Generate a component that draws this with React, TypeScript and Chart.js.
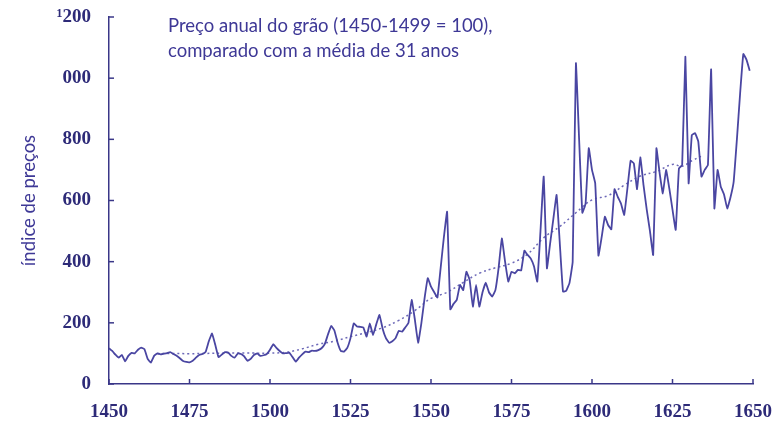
import React, { useEffect, useRef } from "react";
import { Chart, registerables } from "chart.js";

Chart.register(...registerables);

// Annual grain price index, 1450 onward (1450-1499 = 100)
const firstYear = 1450;
const priceIndex = [
  117, 108, 96, 86, 95, 74, 92, 102, 100, 112,
  119, 114, 82, 70, 92, 100, 97, 99, 101, 104,
  98, 92, 84, 75, 72, 71, 76, 86, 95, 98,
  105, 140, 165, 128, 88, 96, 104, 103, 92, 86,
  100, 98, 90, 76, 82, 95, 100, 92, 94, 98,
  112, 130, 118, 108, 100, 101, 102, 88, 73, 86,
  97, 106, 104, 109, 108, 111, 117, 130, 162, 190,
  175, 135, 108, 106, 118, 150, 198, 188, 187, 185,
  155, 198, 160, 195, 226, 180, 150, 135, 140, 150,
  174, 171, 185, 200, 275, 210, 135, 198, 280, 346,
  318, 300, 283, 380, 480, 563, 244, 262, 275, 324,
  307, 367, 340, 253, 324, 253, 300, 331, 300, 286,
  307, 380, 476, 400, 335, 367, 362, 373, 371, 436,
  422, 410, 384, 335, 500, 678, 378, 460, 540, 618,
  460, 302, 305, 330, 400, 1049, 800, 560, 590, 771,
  700, 656, 420, 480, 547, 520, 506, 637, 612, 590,
  553, 640, 730, 721, 637, 741, 650, 570, 500, 422,
  771, 690, 623, 700, 640, 570, 504, 705, 716, 1070,
  656, 814, 820, 793, 678, 700, 716, 1029, 574, 700,
  645, 620, 574, 610, 662, 800, 950, 1079, 1060, 1024,
];

// 31-year moving average
const avgYears = [
  1465, 1470, 1475, 1480, 1485, 1490, 1495, 1500, 1505, 1510,
  1515, 1520, 1525, 1530, 1535, 1540, 1545, 1550, 1555, 1560,
  1565, 1570, 1575, 1580, 1585, 1590, 1595, 1600, 1605, 1610,
  1615, 1620, 1625, 1628, 1631, 1634,
];
const avgValues = [
  100, 100, 99, 100, 101, 101, 101, 101, 104, 115,
  130, 140, 155, 168, 184, 208, 240, 280, 300, 332,
  362, 380, 395, 425, 478, 515, 560, 602, 616, 650,
  680, 695, 718, 712, 730, 745,
];

const xTickLabels = ["1450", "1475", "1500", "1525", "1550", "1575", "1600", "1625", "1650"];
const yTickLabels = ["0", "200", "400", "600", "800", "000", "\u00b9200"];

const titleLines = ["Preço anual do grão (1450-1499 = 100),", "comparado com a média de 31 anos"];
const yAxisTitle = "índice de preços";

const axisColor = "#3a3788";
const tickTextColor = "#2d2a78";
const lineColor = "#4a46a2";
const avgColor = "#6d69b8";
const textColor = "#3e3896";

export default function App() {
  const ref = useRef<HTMLCanvasElement | null>(null);

  useEffect(() => {
    if (!ref.current) return;
    const overlay = {
      id: "overlay",
      afterDraw(chart: any) {
        const { ctx, scales } = chart;
        const x = scales.x;
        const y = scales.y;
        ctx.save();
        ctx.strokeStyle = axisColor;
        ctx.lineWidth = 1.5;
        x.ticks.forEach((t: any) => {
          const px = x.getPixelForValue(t.value);
          ctx.beginPath();
          ctx.moveTo(px, y.bottom);
          ctx.lineTo(px, y.bottom - 5);
          ctx.stroke();
        });
        y.ticks.forEach((t: any) => {
          const py = y.getPixelForValue(t.value);
          ctx.beginPath();
          ctx.moveTo(x.left, py);
          ctx.lineTo(x.left + 5, py);
          ctx.stroke();
        });
        ctx.fillStyle = textColor;
        ctx.font = "18.5px Lato";
        ctx.textBaseline = "alphabetic";
        ctx.textAlign = "left";
        titleLines.forEach((line, i) => {
          ctx.fillText(line, x.left + 59, 32 + i * 25);
        });
        ctx.restore();
      },
    };

    const chart = new Chart(ref.current, {
      type: "line",
      data: {
        datasets: [
          {
            data: priceIndex.map((v, i) => ({ x: firstYear + i, y: v })),
            borderColor: lineColor,
            borderWidth: 1.8,
            pointRadius: 0,
            tension: 0.1,
            fill: false,
          },
          {
            data: avgYears.map((yr, i) => ({ x: yr, y: avgValues[i] })),
            borderColor: avgColor,
            borderWidth: 1.5,
            borderDash: [2, 3],
            pointRadius: 0,
            tension: 0.4,
            fill: false,
          },
        ],
      },
      options: {
        responsive: false,
        animation: false,
        layout: { padding: { left: 0, right: 25, top: 17, bottom: 0 } },
        plugins: {
          legend: { display: false },
          tooltip: { enabled: false },
          title: { display: false },
        },
        scales: {
          x: {
            type: "linear",
            min: 1450,
            max: 1650,
            grid: { display: false, drawTicks: false },
            border: { display: true, color: axisColor, width: 1.5 },
            afterFit: (s: any) => {
              s.height = 42;
              s.paddingLeft = 0;
              s.paddingRight = 0;
            },
            afterBuildTicks: (s: any) => {
              s.ticks = xTickLabels.map((l) => ({ value: Number(l) }));
            },
            ticks: {
              padding: 17,
              color: tickTextColor,
              font: { family: "Liberation Serif", size: 19, weight: "bold" },
              maxRotation: 0,
              autoSkip: false,
              callback: (v: any, i: number) => xTickLabels[i],
            },
          },
          y: {
            min: 0,
            max: 1200,
            grid: { display: false, drawTicks: false },
            border: { display: true, color: axisColor, width: 1.5 },
            afterFit: (s: any) => {
              s.width = 109;
              s.paddingTop = 0;
              s.paddingBottom = 0;
            },
            ticks: {
              stepSize: 200,
              padding: 18,
              color: tickTextColor,
              font: { family: "Liberation Serif", size: 19, weight: "bold" },
              callback: (v: any, i: number) => yTickLabels[i],
            },
            title: {
              display: true,
              text: yAxisTitle,
              color: textColor,
              font: { family: "Lato", size: 18.5 },
              padding: { top: 18, bottom: 0 },
            },
          },
        },
      },
      plugins: [overlay],
    });
    return () => chart.destroy();
  }, []);

  return (
    <div style={{ position: "fixed", left: 0, top: 0, width: 778, height: 426, background: "#fff" }}>
      <canvas ref={ref} width={778} height={426} style={{ display: "block" }} />
    </div>
  );
}
